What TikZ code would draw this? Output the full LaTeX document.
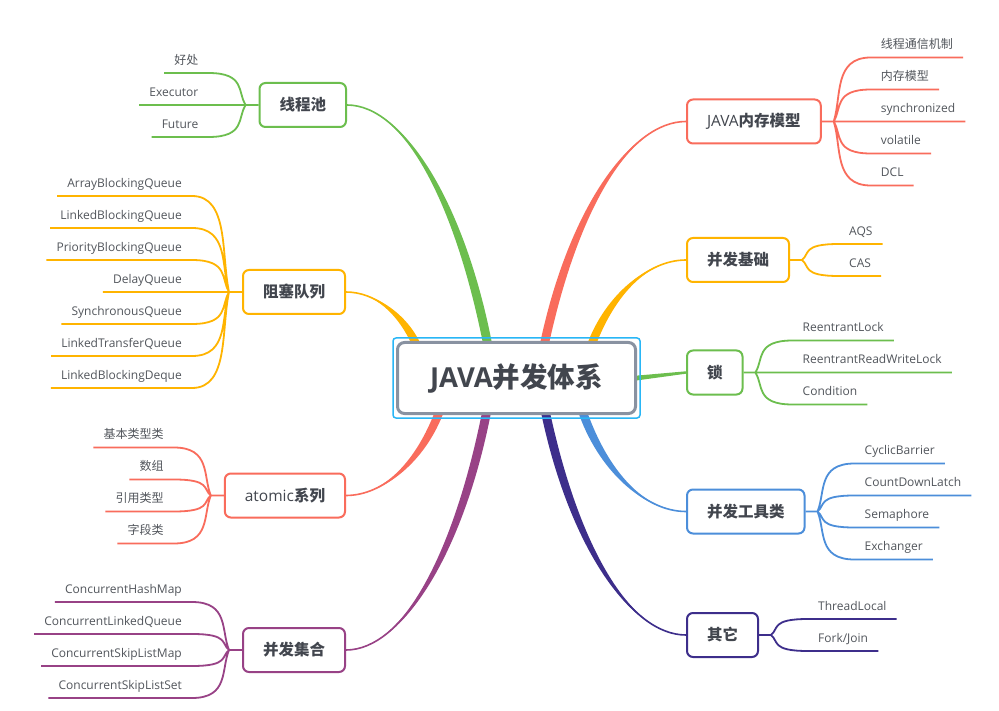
\documentclass[tikz,border=0pt]{standalone}
\usepackage{fontspec}
\setmainfont{Open Sans}
\newfontfamily\cjk{Noto Sans CJK SC}
\usetikzlibrary{calc}

\newcommand{\zh}[1]{{\cjk #1}}
\newcommand{\zhb}[1]{{\cjk\bfseries #1}}

\definecolor{salmon}{RGB}{249,108,92}
\definecolor{amber}{RGB}{255,180,0}
\definecolor{grass}{RGB}{108,190,78}
\definecolor{sky}{RGB}{76,142,218}
\definecolor{indigo}{RGB}{61,46,139}
\definecolor{plum}{RGB}{152,66,134}
\definecolor{slate}{RGB}{137,146,161}
\definecolor{selblue}{RGB}{41,182,246}
\definecolor{ink}{RGB}{66,70,78}
\definecolor{leafink}{RGB}{82,86,92}

\pgfdeclarelayer{bg}
\pgfsetlayers{bg,main}

\tikzstyle{root}=[
	rectangle,
	rounded corners=7pt,
	line width=3pt,
	draw=slate,
	fill=white,
	text=ink,
	minimum width=238pt,
	minimum height=71pt,
	font=\bfseries\fontsize{27.5}{32}\selectfont
]
\tikzstyle{selbox}=[
	draw=selblue,
	line width=1.5pt,
	rounded corners=3pt
]
\tikzstyle{topic}=[
	rectangle,
	rounded corners=6pt,
	line width=2pt,
	fill=white,
	text=ink,
	inner xsep=20pt,
	minimum height=44pt,
	font=\fontsize{15.5}{18}\selectfont
]
\tikzstyle{leafR}=[
	anchor=south west,
	inner xsep=10pt,
	inner ysep=5.5pt,
	text height=9pt,
	text depth=3pt,
	text=leafink,
	font=\fontsize{12}{14}\selectfont
]
\tikzstyle{leafL}=[
	leafR,
	anchor=south east
]
\tikzstyle{twigR}=[
	line width=1.8pt,
	to path={.. controls ([xshift=8pt]$(\tikztostart)!.4!(\tikztostart |- \tikztotarget.south)$)
		and (\tikztostart |- \tikztotarget.south) .. (\tikztotarget.south west) -- (\tikztotarget.south east)}
]
\tikzstyle{twigL}=[
	line width=1.8pt,
	to path={.. controls ([xshift=-8pt]$(\tikztostart)!.4!(\tikztostart |- \tikztotarget.south)$)
		and (\tikztostart |- \tikztotarget.south) .. (\tikztotarget.south east) -- (\tikztotarget.south west)}
]

% thick tapered branch: colour, from, to
\newcommand{\branch}[3]{%
	\fill[#1] let \p1=(#2), \p2=(#3) in
		({\x1-4.5pt},\y1) .. controls ({\x1+0.2*(\x2-\x1)-5pt},{\y1+0.6*(\y2-\y1)}) and ({\x1+0.6*(\x2-\x1)},\y2) .. (\x2,\y2)
		.. controls ({\x1+0.6*(\x2-\x1)},\y2) and ({\x1+0.2*(\x2-\x1)+5pt},{\y1+0.6*(\y2-\y1)}) .. ({\x1+4.5pt},\y1) -- cycle;
	\draw[#1, line width=1.6pt] let \p1=(#2), \p2=(#3) in
		(\p1) .. controls ({\x1+0.2*(\x2-\x1)},{\y1+0.6*(\y2-\y1)}) and ({\x1+0.6*(\x2-\x1)},\y2) .. (\p2);}

\begin{document}
\begin{tikzpicture}[x=1pt,y=-1pt]
\useasboundingbox (0,0) rectangle (999,711);

% centre
\node [root] (root) at (516.5,378) {JAVA\zhb{并发体系}};
\draw [selbox] ([shift={(-3,-3)}]root.north west) rectangle ([shift={(3,3)}]root.south east);

% right side
\node [topic, draw=salmon, anchor=west] (jmm) at (686,121.5) {JAVA\zhb{内存模型}};
\coordinate (jmm-hub) at ([xshift=12pt]jmm.east);
\node [leafR] (jmm1) at ([shift={(37,-64)}]jmm-hub) {\zh{线程通信机制}};
\node [leafR] (jmm2) at ([shift={(37,-32)}]jmm-hub) {\zh{内存模型}};
\node [leafR] (jmm3) at ([shift={(37,0)}]jmm-hub) {synchronized};
\node [leafR] (jmm4) at ([shift={(37,32)}]jmm-hub) {volatile};
\node [leafR] (jmm5) at ([shift={(37,64)}]jmm-hub) {DCL};
\draw [twigR, salmon] (jmm.east) -- (jmm-hub) to (jmm1) (jmm-hub) to (jmm2) (jmm-hub) to (jmm3)
	(jmm-hub) to (jmm4) (jmm-hub) to (jmm5);

\node [topic, draw=amber, anchor=west] (base) at (686,260) {\zhb{并发基础}};
\coordinate (base-hub) at ([xshift=12pt]base.east);
\node [leafR] (base1) at ([shift={(37,-16)}]base-hub) {AQS};
\node [leafR] (base2) at ([shift={(37,16)}]base-hub) {CAS};
\draw [twigR, amber] (base.east) -- (base-hub) to (base1) (base-hub) to (base2);

\node [topic, draw=grass, anchor=west] (lock) at (686,372.5) {\zhb{锁}};
\coordinate (lock-hub) at ([xshift=12pt]lock.east);
\node [leafR] (lock1) at ([shift={(37,-32)}]lock-hub) {ReentrantLock};
\node [leafR] (lock2) at ([shift={(37,0)}]lock-hub) {ReentrantReadWriteLock};
\node [leafR] (lock3) at ([shift={(37,32)}]lock-hub) {Condition};
\draw [twigR, grass] (lock.east) -- (lock-hub) to (lock1) (lock-hub) to (lock2) (lock-hub) to (lock3);

\node [topic, draw=sky, anchor=west] (tool) at (686,511.5) {\zhb{并发工具类}};
\coordinate (tool-hub) at ([xshift=12pt]tool.east);
\node [leafR] (tool1) at ([shift={(37,-48)}]tool-hub) {CyclicBarrier};
\node [leafR] (tool2) at ([shift={(37,-16)}]tool-hub) {CountDownLatch};
\node [leafR] (tool3) at ([shift={(37,16)}]tool-hub) {Semaphore};
\node [leafR] (tool4) at ([shift={(37,48)}]tool-hub) {Exchanger};
\draw [twigR, sky] (tool.east) -- (tool-hub) to (tool1) (tool-hub) to (tool2) (tool-hub) to (tool3) (tool-hub) to (tool4);

\node [topic, draw=indigo, anchor=west] (other) at (686,635) {\zhb{其它}};
\coordinate (other-hub) at ([xshift=12pt]other.east);
\node [leafR] (other1) at ([shift={(37,-16)}]other-hub) {ThreadLocal};
\node [leafR] (other2) at ([shift={(37,16)}]other-hub) {Fork/Join};
\draw [twigR, indigo] (other.east) -- (other-hub) to (other1) (other-hub) to (other2);

% left side
\node [topic, draw=grass, anchor=east] (pool) at (347,105) {\zhb{线程池}};
\coordinate (pool-hub) at ([xshift=-13pt]pool.west);
\node [leafL] (pool1) at ([shift={(-37,-32)}]pool-hub) {\zh{好处}};
\node [leafL] (pool2) at ([shift={(-37,0)}]pool-hub) {Executor};
\node [leafL] (pool3) at ([shift={(-37,32)}]pool-hub) {Future};
\draw [twigL, grass] (pool.west) -- (pool-hub) to (pool1) (pool-hub) to (pool2) (pool-hub) to (pool3);

\node [topic, draw=amber, anchor=east] (queue) at (346,292) {\zhb{阻塞队列}};
\coordinate (queue-hub) at ([xshift=-13pt]queue.west);
\node [leafL] (queue1) at ([shift={(-37,-96)}]queue-hub) {ArrayBlockingQueue};
\node [leafL] (queue2) at ([shift={(-37,-64)}]queue-hub) {LinkedBlockingQueue};
\node [leafL] (queue3) at ([shift={(-37,-32)}]queue-hub) {PriorityBlockingQueue};
\node [leafL] (queue4) at ([shift={(-37,0)}]queue-hub) {DelayQueue};
\node [leafL] (queue5) at ([shift={(-37,32)}]queue-hub) {SynchronousQueue};
\node [leafL] (queue6) at ([shift={(-37,64)}]queue-hub) {LinkedTransferQueue};
\node [leafL] (queue7) at ([shift={(-37,96)}]queue-hub) {LinkedBlockingDeque};
\draw [twigL, amber] (queue.west) -- (queue-hub) to (queue1) (queue-hub) to (queue2) (queue-hub) to (queue3)
	(queue-hub) to (queue4) (queue-hub) to (queue5) (queue-hub) to (queue6) (queue-hub) to (queue7);

\node [topic, draw=salmon, anchor=east] (atomic) at (346,495.5) {atomic\zhb{系列}};
\coordinate (atomic-hub) at ([xshift=-13pt]atomic.west);
\node [leafL] (atomic1) at ([shift={(-37,-48)}]atomic-hub) {\zh{基本类型类}};
\node [leafL] (atomic2) at ([shift={(-37,-16)}]atomic-hub) {\zh{数组}};
\node [leafL] (atomic3) at ([shift={(-37,16)}]atomic-hub) {\zh{引用类型}};
\node [leafL] (atomic4) at ([shift={(-37,48)}]atomic-hub) {\zh{字段类}};
\draw [twigL, salmon] (atomic.west) -- (atomic-hub) to (atomic1) (atomic-hub) to (atomic2) (atomic-hub) to (atomic3)
	(atomic-hub) to (atomic4);

\node [topic, draw=plum, anchor=east] (coll) at (346,650) {\zhb{并发集合}};
\coordinate (coll-hub) at ([xshift=-13pt]coll.west);
\node [leafL] (coll1) at ([shift={(-37,-48)}]coll-hub) {ConcurrentHashMap};
\node [leafL] (coll2) at ([shift={(-37,-16)}]coll-hub) {ConcurrentLinkedQueue};
\node [leafL] (coll3) at ([shift={(-37,16)}]coll-hub) {ConcurrentSkipListMap};
\node [leafL] (coll4) at ([shift={(-37,48)}]coll-hub) {ConcurrentSkipListSet};
\draw [twigL, plum] (coll.west) -- (coll-hub) to (coll1) (coll-hub) to (coll2) (coll-hub) to (coll3) (coll-hub) to (coll4);

% main branches, behind the boxes
\coordinate (o-pool) at (488,346);
\coordinate (o-queue) at (417,346);
\coordinate (o-jmm) at (544,346);
\coordinate (o-base) at (591,346);
\coordinate (o-atomic) at (440,410);
\coordinate (o-coll) at (487,410);
\coordinate (o-other) at (545,410);
\coordinate (o-tool) at (582,410);
\begin{pgfonlayer}{bg}
\fill [white] (0,0) rectangle (999,711);
\branch{grass}{o-pool}{pool.east}
\branch{amber}{o-queue}{queue.east}
\branch{salmon}{o-jmm}{jmm.west}
\branch{amber}{o-base}{base.west}
\branch{salmon}{o-atomic}{atomic.east}
\branch{plum}{o-coll}{coll.east}
\branch{indigo}{o-other}{other.west}
\branch{sky}{o-tool}{tool.west}
\fill [grass] ([yshift=2.4pt]root.east) -- ([yshift=1.2pt]lock.west) -- ([yshift=-1.2pt]lock.west) -- ([yshift=-2.4pt]root.east) -- cycle;
\end{pgfonlayer}
\end{tikzpicture}
\end{document}
